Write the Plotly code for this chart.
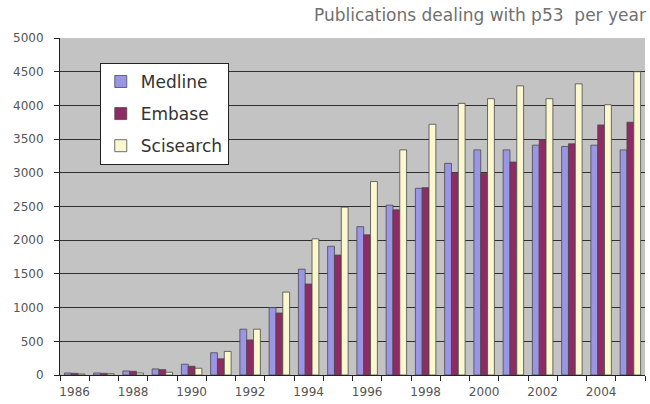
import plotly.graph_objects as go

years = list(range(1986, 2006))
medline = [30, 30, 60, 90, 160, 330, 680, 1000, 1570, 1910, 2200, 2520, 2770, 3140, 3340, 3340, 3410, 3390, 3410, 3340]
embase = [25, 25, 55, 80, 130, 240, 520, 920, 1350, 1780, 2080, 2450, 2780, 3000, 2990, 3160, 3490, 3430, 3710, 3750]
scisearch = [15, 20, 30, 40, 100, 350, 680, 1230, 2020, 2490, 2870, 3340, 3720, 4030, 4100, 4290, 4100, 4320, 4010, 4500]
tick_years = list(range(1986, 2006, 2))
y_ticks = list(range(0, 5001, 500))

series = [
    ("Medline", medline, "#9b95e6"),
    ("Embase", embase, "#8e2a64"),
    ("Scisearch", scisearch, "#fbf8d0"),
]

fig = go.Figure()
for name, vals, col in series:
    fig.add_trace(go.Bar(
        x=years, y=vals, name=name, legendgroup=name,
        marker=dict(color=col, line=dict(color="#4a4a4a", width=0.8)),
    ))

fig.update_layout(
    width=650, height=404,
    margin=dict(l=60, r=5, t=38, b=29),
    paper_bgcolor="white",
    plot_bgcolor="#c3c3c3",
    barmode="group",
    bargap=0.3,
    bargroupgap=0.0,
    font=dict(family="DejaVu Sans", size=12, color="#555555"),
    showlegend=True,
    legend=dict(
        x=0.068, y=0.926, xanchor="left", yanchor="top",
        bgcolor="white", bordercolor="#222222", borderwidth=1,
        font=dict(family="DejaVu Sans", size=17, color="#333333"),
        traceorder="grouped", tracegroupgap=7,
        itemwidth=30,
    ),
    annotations=[dict(
        text="Publications dealing with p53\u00a0\u00a0per year",
        xref="paper", yref="paper", x=1.005, y=1.068,
        xanchor="right", yanchor="middle", showarrow=False,
        font=dict(family="DejaVu Sans", size=17, color="#707070"),
    )],
)

fig.update_xaxes(
    range=[1985.5, 2005.5],
    tickvals=tick_years, ticktext=[str(y) for y in tick_years],
    ticks="", showgrid=False,
    showline=True, linecolor="#222222", linewidth=1,
    tickfont=dict(family="DejaVu Sans", size=12, color="#555555"),
    ticklabelstandoff=6,
    minor=dict(tick0=1985.5, dtick=1, ticks="outside", ticklen=5, tickcolor="#222222", showgrid=False),
)
fig.update_yaxes(
    range=[0, 5000], tickvals=y_ticks,
    showgrid=True, gridcolor="#303030", gridwidth=1,
    ticks="outside", ticklen=5, tickcolor="#222222",
    showline=True, linecolor="#222222", linewidth=1,
    zeroline=False,
    tickfont=dict(family="DejaVu Sans", size=12, color="#555555"),
    ticklabelstandoff=8,
)

fig.write_html(
    "out.html",
    config={"displayModeBar": False},
    post_script="document.body.style.margin='0px';document.body.style.overflow='hidden';",
)
